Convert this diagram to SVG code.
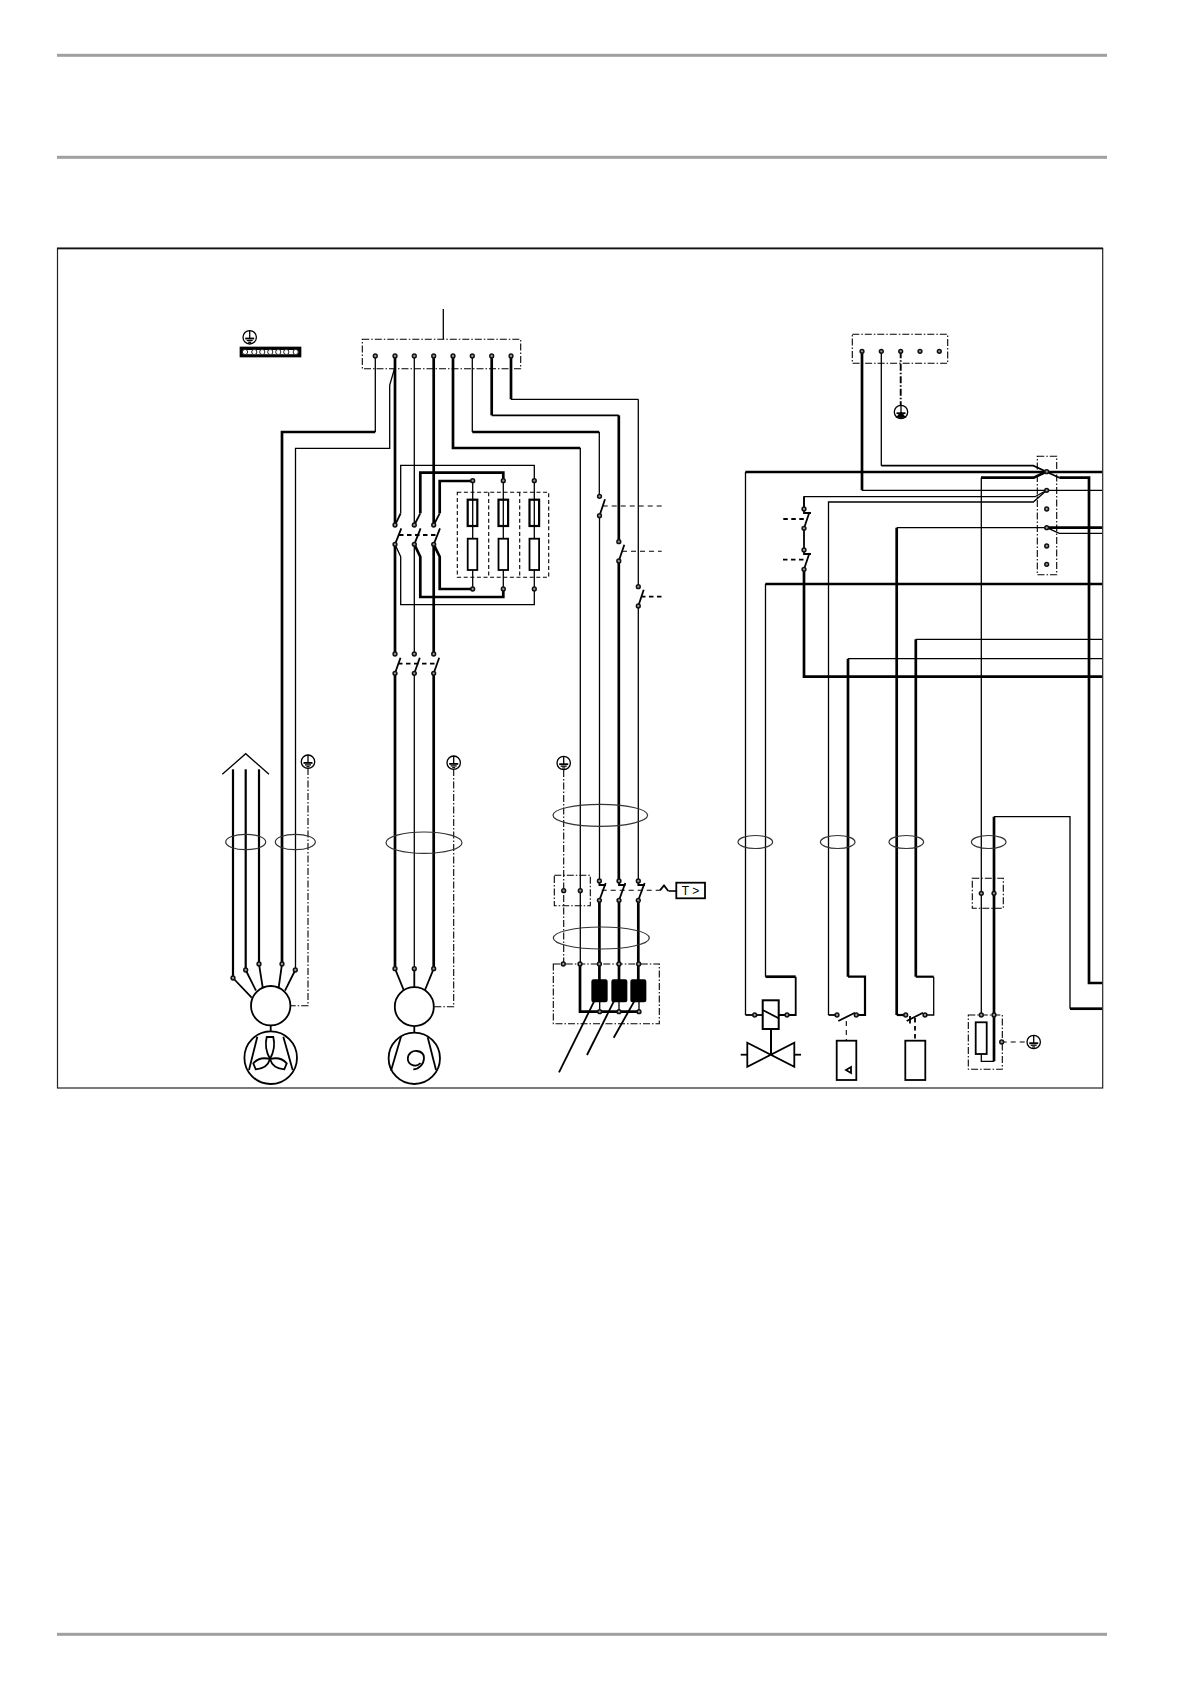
<svg xmlns="http://www.w3.org/2000/svg" width="1191" height="1684" viewBox="0 0 1191 1684">
<style>
line,path,polyline,rect,circle,ellipse,polygon{fill:none;stroke:#000;stroke-width:1.3}
.k{stroke-width:2.7}
.th{stroke-width:1.3}
.m{stroke-width:1.8}
.f{stroke-width:2.2}
.dd{stroke-width:1.1;stroke-dasharray:7 2 1.5 2}
.dk{stroke-width:1.9;stroke-dasharray:7 2 1.5 2}
.d{stroke-width:1.1;stroke-dasharray:4 2.6}
.dh{stroke-width:1.8;stroke-dasharray:4.5 3.5}
.dl{stroke-width:1.1;stroke-dasharray:5 4}
.e{stroke:#333;stroke-width:1.2}
.t{fill:#999;stroke:#111;stroke-width:1.5}
.b{fill:#000;stroke:#000}
.g{fill:#a0a0a0;stroke:none}
.txt{font-family:"Liberation Sans",Arial,sans-serif;font-size:12px;fill:#000}
</style>
<defs>
<g id="pe"><circle r="6.7" style="fill:#fff"/><line x1="0" y1="-7" x2="0" y2="1"/><line x1="-4.5" y1="1.2" x2="4.5" y2="1.2" class="m"/><line x1="-3" y1="3.2" x2="3" y2="3.2"/><line x1="-1.5" y1="5" x2="1.5" y2="5"/></g>
<circle id="tm" r="1.9" class="t"/>
<circle id="tb" r="2.6" style="fill:#fff;stroke:#222;stroke-width:1"/>
</defs>
<g id="page-rules">
<rect class="g" x="57" y="53.8" width="1050" height="3"/>
<rect class="g" x="57" y="155.8" width="1050" height="3"/>
<rect class="g" x="57" y="1632.8" width="1050" height="3"/>
</g>
<g id="frame">
<rect x="57.5" y="248.5" width="1045.2" height="839.5" style="stroke:#222;stroke-width:1.2"/>
<line x1="57" y1="248.3" x2="1103" y2="248.3" style="stroke:#111;stroke-width:1.7"/>
</g>
<g id="connectors">
<line x1="443.3" y1="309" x2="443.3" y2="339.3"/>
<polyline points="375.3,356 375.3,432"/><polyline class="k" points="375.3,432 282,432 282,964"/>
<polyline points="395,367 389.7,385 389.7,448.3 295.5,448.3 295.5,970"/>
<line class="k" x1="395" y1="356" x2="395" y2="525"/><line class="k" x1="395" y1="544.3" x2="395" y2="654"/><line class="k" x1="395" y1="673.3" x2="395" y2="968.7"/>
<line x1="414.3" y1="356" x2="414.3" y2="525"/><line x1="414.3" y1="544.3" x2="414.3" y2="654"/><line x1="414.3" y1="673.3" x2="414.3" y2="968.7"/>
<line class="k" x1="433.7" y1="356" x2="433.7" y2="525"/><line class="k" x1="433.7" y1="544.3" x2="433.7" y2="654"/><line class="k" x1="433.7" y1="673.3" x2="433.7" y2="968.7"/>
<polyline class="k" points="453,356 453,448 580.3,448"/><line x1="580.3" y1="448" x2="580.3" y2="964"/>
<line x1="472.3" y1="356" x2="472.3" y2="432"/><line class="k" x1="472.3" y1="432" x2="599.3" y2="432"/><line x1="599.3" y1="432" x2="599.3" y2="496.3"/>
<line x1="599.5" y1="515.7" x2="599.5" y2="881"/>
<line class="k" x1="491.7" y1="356" x2="491.7" y2="415.3"/><line class="m" x1="491.7" y1="415.3" x2="618.8" y2="415.3"/><line class="k" x1="618.8" y1="415.3" x2="618.8" y2="541.7"/><line class="k" x1="618.8" y1="561" x2="618.8" y2="881"/>
<line class="k" x1="511" y1="356" x2="511" y2="399.3"/><line class="th" x1="511" y1="399.3" x2="638.3" y2="399.3"/><line x1="638.3" y1="399.3" x2="638.3" y2="586.7"/><line x1="638.3" y1="606" x2="638.3" y2="881"/>
<line class="dl" x1="602.7" y1="506" x2="661.7" y2="506"/><line class="dl" x1="622" y1="551.3" x2="661.7" y2="551.3"/><line class="dh" x1="641" y1="596.7" x2="661.7" y2="596.7"/>
<polyline points="400.7,513.3 400.7,465.3 534.3,465.3 534.3,480.7"/>
<polyline class="k" points="420.3,513.3 420.3,472.7 503.3,472.7 503.3,480.7"/>
<polyline class="k" points="439.7,513.3 439.7,481 472.7,481"/>
<polyline points="395,544.3 400.7,556.7 400.7,604.7 534.3,604.7 534.3,589"/>
<polyline class="k" points="414.3,544.3 420.3,556.7 420.3,597 503.3,597 503.3,589"/>
<polyline class="k" points="433.7,544.3 439.7,556.7 439.7,589 472.7,589"/>
<polyline class="k" points="862,351.3 862,490.3"/><line x1="862" y1="490.3" x2="1102" y2="490.3"/>
<polyline points="881.3,351.3 881.3,465.7"/><polyline class="m" points="881.3,465.7 1033.3,465.7 1059.3,477.7"/><polyline class="k" points="1059.3,477.7 1089,477.7 1089,983 1102,983"/>
<line class="dk" x1="900.7" y1="351.3" x2="900.7" y2="405"/>
<polyline class="k" points="745.3,472 1102,472"/><line x1="745.5" y1="472" x2="745.5" y2="1015"/>
<polyline class="k" points="1046.7,471.5 1033.7,477.7 981,477.7"/><line x1="981.3" y1="477.7" x2="981.3" y2="1015"/>
<polyline points="804,509 804,496.7 1035,496.7 1046.7,490.3"/><line class="m" x1="804" y1="496.7" x2="804" y2="509"/>
<polyline points="1046.7,490.3 1033.3,502 828.5,502 828.5,1015"/>
<polyline points="1046.7,527.7 896.7,527.7"/><line class="k" x1="896.7" y1="527.7" x2="896.7" y2="1015"/>
<line class="k" x1="1046.7" y1="527.7" x2="1102" y2="527.7"/><polyline points="1046.7,527.7 1059.3,533.3 1102,533.3"/>
<line class="m" x1="804" y1="528.3" x2="804" y2="550"/>
<polyline class="k" points="804,569.3 804,676.7 1102,676.7"/>
<polyline class="k" points="1102,584 765.3,584"/><polyline points="765.5,584 765.5,976.7"/>
<polyline points="1102,639.3 915.8,639.3"/><line class="k" x1="915.8" y1="639.3" x2="915.8" y2="976.7"/>
<polyline points="1102,658.7 848,658.7"/><line class="k" x1="848" y1="658.7" x2="848" y2="976.7"/>
<line class="dh" x1="783.3" y1="519" x2="804" y2="519"/><line class="dh" x1="783" y1="559.7" x2="804" y2="559.7"/>
<polyline class="k" points="994,1015 994,816.7"/><polyline points="994,816.7 1070,816.7 1070,1008.7"/><line class="k" x1="1070" y1="1008.7" x2="1102" y2="1008.7"/>
<polyline class="dd" points="308,768 308,1005.7 290.7,1005.7"/>
<polyline class="dd" points="453.7,769 453.7,1006.7 434,1006.7"/>
<line class="dd" x1="563.7" y1="770" x2="563.7" y2="964"/>
<line class="dl" x1="1001.7" y1="1042" x2="1026.7" y2="1042"/>
<line class="k" x1="599.4" y1="900.3" x2="599.4" y2="980"/><line class="k" x1="619" y1="900.3" x2="619" y2="980"/><line class="k" x1="638.3" y1="900.3" x2="638.3" y2="980"/>
<polyline class="k" points="580,964 580,1011.7 639,1011.7"/>
<line x1="599.7" y1="1001.7" x2="599.7" y2="1011.7"/><line x1="619" y1="1001.7" x2="619" y2="1011.7"/><line x1="639" y1="1001.7" x2="639" y2="1011.7"/>
<line class="m" x1="594" y1="1001.7" x2="559" y2="1072.3"/><line class="m" x1="613.7" y1="1001.7" x2="587" y2="1055"/><line class="m" x1="634" y1="1001.7" x2="613.7" y2="1037.7"/>
<polyline class="dl" points="601.7,890.3 660,890.3"/>
<polyline class="m" points="660,890.3 664,885.5 668.3,891"/><line x1="668.5" y1="891" x2="676" y2="891" style="stroke-width:1.6"/>
<polyline class="m" points="745.5,1015 754.7,1015"/><line class="m" x1="754.7" y1="1015" x2="762.7" y2="1015"/>
<polyline class="k" points="765.5,976.7 795.7,976.7"/><polyline class="m" points="795.7,976.7 795.7,1015 778.7,1015"/>
<polyline class="m" points="828.5,1015 837,1015"/>
<polyline class="f" points="848,976.7 865,976.7 865,1015 856.3,1015"/>
<polyline class="f" points="896.7,1015 905.7,1015"/>
<polyline class="f" points="915.8,976.7 933.7,976.7"/><polyline points="933.7,976.7 933.7,1015 925,1015"/>
<line x1="846.3" y1="1021" x2="846.3" y2="1040.7" class="dl"/>
<line x1="915" y1="1018" x2="915" y2="1040.7" class="dh"/>
</g>
<g id="pe-bar">
<use href="#pe" x="249.7" y="337.3"/>
<rect x="240.3" y="347.3" width="60.4" height="9.4" class="b"/>
<rect x="244" y="350" width="53" height="4.2" style="fill:#fff;stroke:none"/>
<use href="#tb" x="245" y="352"/><use href="#tb" x="254.3" y="352"/><use href="#tb" x="262.3" y="352"/><use href="#tb" x="270.3" y="352"/><use href="#tb" x="278.3" y="352"/><use href="#tb" x="286.3" y="352"/><use href="#tb" x="295.7" y="352"/>
</g>
<g id="terminal-strip-main">
<rect class="dd" x="362.3" y="339.3" width="158.4" height="29.4"/>
<use href="#tm" x="375.3" y="356"/><use href="#tm" x="395" y="356"/><use href="#tm" x="414.3" y="356"/><use href="#tm" x="433.7" y="356"/><use href="#tm" x="453" y="356"/><use href="#tm" x="472.3" y="356"/><use href="#tm" x="491.7" y="356"/><use href="#tm" x="511" y="356"/>
</g>
<g id="terminal-strip-control">
<rect class="dd" x="852.3" y="334.3" width="95.4" height="29"/>
<use href="#tm" x="862" y="351.3"/><use href="#tm" x="881.3" y="351.3"/><use href="#tm" x="900.7" y="351.3"/><use href="#tm" x="920" y="351.3"/><use href="#tm" x="939.3" y="351.3"/>
<use href="#pe" x="901" y="412"/>
<polygon class="b" points="897,417 905,417 901,413"/>
</g>
<g id="terminal-strip-side">
<rect class="dd" x="1037.3" y="456.3" width="19.4" height="118.4"/>
<use href="#tm" x="1046.7" y="471.7"/><use href="#tm" x="1046.7" y="490.3"/><use href="#tm" x="1046.7" y="509"/><use href="#tm" x="1046.7" y="527.7"/><use href="#tm" x="1046.7" y="546"/><use href="#tm" x="1046.7" y="564.3"/>
</g>
<g id="main-contactor">
<line class="m" x1="395" y1="525" x2="400.7" y2="513.3"/><line class="m" x1="414.3" y1="525" x2="420.3" y2="513.3"/><line class="m" x1="433.7" y1="525" x2="439.7" y2="513.3"/>
<line class="m" x1="395" y1="544.3" x2="401.3" y2="528.3"/><line class="m" x1="414.3" y1="544.3" x2="420.6" y2="528.3"/><line class="m" x1="433.7" y1="544.3" x2="440" y2="528.3"/>
<line class="dh" x1="399" y1="535" x2="437" y2="535"/>
<use href="#tm" x="395" y="525"/><use href="#tm" x="414.3" y="525"/><use href="#tm" x="433.7" y="525"/>
<use href="#tm" x="395" y="544.3"/><use href="#tm" x="414.3" y="544.3"/><use href="#tm" x="433.7" y="544.3"/>
</g>
<g id="second-contactor">
<line class="m" x1="395" y1="673.3" x2="400.5" y2="657.7"/><line class="m" x1="414.3" y1="673.3" x2="419.8" y2="657.7"/><line class="m" x1="433.7" y1="673.3" x2="439.2" y2="657.7"/>
<line class="dh" x1="398" y1="663.7" x2="437" y2="663.7"/>
<use href="#tm" x="395" y="654"/><use href="#tm" x="414.3" y="654"/><use href="#tm" x="433.7" y="654"/>
<use href="#tm" x="395" y="673.3"/><use href="#tm" x="414.3" y="673.3"/><use href="#tm" x="433.7" y="673.3"/>
</g>
<g id="heater-block">
<rect class="d" x="457.3" y="492.3" width="91.4" height="85"/>
<line class="d" x1="488.7" y1="492.3" x2="488.7" y2="577.3"/><line class="d" x1="519.7" y1="492.3" x2="519.7" y2="577.3"/>
<line x1="472.7" y1="480.7" x2="472.7" y2="589"/><line x1="503.3" y1="480.7" x2="503.3" y2="589"/><line x1="534.3" y1="480.7" x2="534.3" y2="589"/>
<rect class="f" x="467.7" y="499.7" width="9.6" height="26.3"/><rect class="f" x="498.5" y="499.7" width="9.6" height="26.3"/><rect class="f" x="529.5" y="499.7" width="9.6" height="26.3"/>
<rect class="m" x="467.7" y="538.7" width="9.6" height="31.3" style="fill:#fff"/><rect class="m" x="498.5" y="538.7" width="9.6" height="31.3" style="fill:#fff"/><rect class="m" x="529.5" y="538.7" width="9.6" height="31.3" style="fill:#fff"/>
<use href="#tm" x="472.7" y="480.7"/><use href="#tm" x="503.3" y="480.7"/><use href="#tm" x="534.3" y="480.7"/>
<use href="#tm" x="472.7" y="589"/><use href="#tm" x="503.3" y="589"/><use href="#tm" x="534.3" y="589"/>
</g>
<g id="overload-contacts">
<line class="m" x1="599.5" y1="515.7" x2="605" y2="499.3"/><line class="m" x1="618.8" y1="561" x2="624.3" y2="544.7"/><line class="m" x1="638.3" y1="606" x2="643.7" y2="589.7"/>
<use href="#tm" x="599.5" y="496.3"/><use href="#tm" x="599.5" y="515.7"/><use href="#tm" x="618.8" y="541.7"/><use href="#tm" x="618.8" y="561"/><use href="#tm" x="638.3" y="586.7"/><use href="#tm" x="638.3" y="606"/>
</g>
<g id="pressure-contacts">
<line class="m" x1="804" y1="528.3" x2="809.5" y2="512"/><polyline class="m" points="804,509 804,513 811,513"/>
<line class="m" x1="804" y1="569.3" x2="809.5" y2="553"/><polyline class="m" points="804,550 804,554 811,554"/>
<use href="#tm" x="804" y="509"/><use href="#tm" x="804" y="528.3"/><use href="#tm" x="804" y="550"/><use href="#tm" x="804" y="569.3"/>
</g>
<g id="fan-motor">
<polyline points="222.3,774.3 245.7,753.7 269,774.3"/>
<line class="f" x1="233" y1="769.3" x2="233" y2="978"/><line class="f" x1="245.7" y1="769.3" x2="245.7" y2="970"/><line class="f" x1="259" y1="769.3" x2="259" y2="964"/>
<line class="m" x1="233" y1="978" x2="251.7" y2="997.7"/><line class="m" x1="245.7" y1="970" x2="256" y2="990.7"/><line class="m" x1="259" y1="964" x2="262.7" y2="987.3"/><line class="m" x1="282" y1="964" x2="278.7" y2="987.3"/><line class="m" x1="295.3" y1="970" x2="285" y2="990.7"/>
<use href="#tm" x="233" y="978"/><use href="#tm" x="245.7" y="970"/><use href="#tm" x="259" y="964"/><use href="#tm" x="282" y="964"/><use href="#tm" x="295.3" y="970"/>
<circle class="m" cx="270.7" cy="1005.7" r="19.7"/>
<line class="m" x1="270.7" y1="1025.4" x2="270.7" y2="1031.4"/>
<circle class="m" cx="270.7" cy="1057.7" r="26.3"/>
<line class="m" x1="257.3" y1="1036.7" x2="249" y2="1070"/><line class="m" x1="283.3" y1="1036.7" x2="292.7" y2="1070"/>
<path class="m" d="M270 1059C265 1050 265 1044 266.7 1037L273.3 1037C275 1044 275 1050 270 1059Z"/>
<path class="m" d="M270 1059C262 1057 257 1059 253.3 1063.3L255.7 1069.3C262 1069 268 1066 270 1059Z"/>
<path class="m" d="M270 1059C278 1057 283 1059 286.7 1063.3L284.3 1069.3C278 1069 272 1066 270 1059Z"/>
<use href="#pe" x="308" y="761.7"/>
<ellipse class="e" cx="245.7" cy="842" rx="20" ry="7.7"/>
<ellipse class="e" cx="295.3" cy="842" rx="20" ry="7.7"/>
</g>
<g id="compressor-motor">
<line class="m" x1="395" y1="968.7" x2="403.7" y2="990"/><line class="m" x1="414.3" y1="968.7" x2="414.3" y2="987"/><line class="m" x1="433.7" y1="968.7" x2="425" y2="990"/>
<use href="#tm" x="395" y="968.7"/><use href="#tm" x="414.3" y="968.7"/><use href="#tm" x="433.7" y="968.7"/>
<circle class="m" cx="414.3" cy="1006.7" r="19.5"/>
<line class="m" x1="414.3" y1="1026.2" x2="414.3" y2="1032.6"/>
<circle class="m" cx="414.3" cy="1058.3" r="25.7"/>
<line class="m" x1="401" y1="1036.7" x2="391" y2="1070.7"/><line class="m" x1="427.7" y1="1037.3" x2="436" y2="1070"/>
<path class="m" d="M420.5 1063C416 1068 408 1065 407.8 1059C407.8 1053 413 1050.5 417 1051C421 1051.5 424 1054 424 1058C424 1064 419 1069 413.3 1069.3"/>
<use href="#pe" x="453.7" y="762.7"/>
<ellipse class="e" cx="424" cy="842.7" rx="38" ry="10.7"/>
</g>
<g id="compressor-protection">
<use href="#pe" x="563.7" y="763"/>
<ellipse class="e" cx="600.3" cy="815.3" rx="47.3" ry="11"/>
<ellipse class="e" cx="601.3" cy="938" rx="48" ry="11"/>
<rect class="dd" x="554.3" y="875.3" width="36" height="30.4"/>
<use href="#tm" x="563.7" y="890.7"/><use href="#tm" x="580.3" y="890.7"/>
<line class="m" x1="599.4" y1="900.3" x2="605.7" y2="883"/><polyline class="m" points="599.4,881 599.4,885 606,885"/>
<line class="m" x1="619" y1="900.3" x2="625.3" y2="883"/><polyline class="m" points="619,881 619,885 625.5,885"/>
<line class="m" x1="638.3" y1="900.3" x2="644.6" y2="883"/><polyline class="m" points="638.3,881 638.3,885 645,885"/>
<use href="#tm" x="599.4" y="881"/><use href="#tm" x="619" y="881"/><use href="#tm" x="638.3" y="881"/>
<use href="#tm" x="599.4" y="900.3"/><use href="#tm" x="619" y="900.3"/><use href="#tm" x="638.3" y="900.3"/>
</g>
<g id="temperature-sensor">
<rect class="m" x="676.3" y="882.7" width="28.7" height="15.6"/>
<text class="txt" x="690.5" y="895" text-anchor="middle">T &gt;</text>
</g>
<g id="winding-box">
<rect class="dd" x="553.3" y="964" width="106" height="59.7"/>
<rect class="b" x="592" y="980" width="15" height="21.7" rx="1.5"/>
<rect class="b" x="612" y="980" width="14.7" height="21.7" rx="1.5"/>
<rect class="b" x="631" y="980" width="14.7" height="21.7" rx="1.5"/>
<use href="#tm" x="563.3" y="964"/><use href="#tm" x="580" y="964"/><use href="#tm" x="599.4" y="964"/><use href="#tm" x="619" y="964"/><use href="#tm" x="638.7" y="964"/>
<use href="#tm" x="599.7" y="1011.7"/><use href="#tm" x="619" y="1011.7"/><use href="#tm" x="639" y="1011.7"/>
</g>
<g id="solenoid-valve">
<ellipse class="e" cx="755.3" cy="842" rx="17.3" ry="6.5"/>
<rect x="762.7" y="1000.3" width="16" height="28.7" style="stroke-width:2"/>
<line class="m" x1="762.7" y1="1010" x2="778.7" y2="1018.3"/>
<use href="#tm" x="754.7" y="1015"/><use href="#tm" x="787" y="1015"/>
<line x1="771" y1="1029" x2="771" y2="1054.7" style="stroke-width:2"/>
<polygon class="m" points="747.3,1042.7 794.3,1066.7 794.3,1042.7 747.3,1066.7"/>
<line class="m" x1="740.7" y1="1054.7" x2="747.3" y2="1054.7"/><line class="m" x1="794.3" y1="1054.7" x2="801" y2="1054.7"/>
</g>
<g id="low-pressure-switch">
<ellipse class="e" cx="837.7" cy="842" rx="17.3" ry="6.5"/>
<line class="m" x1="838.3" y1="1021" x2="855" y2="1012.7"/>
<use href="#tm" x="837" y="1015"/><use href="#tm" x="856.3" y="1015"/>
<rect class="m" x="836.7" y="1040.7" width="19.6" height="39.3"/>
<polygon class="m" points="846,1070 851,1067 851,1073"/>
</g>
<g id="high-pressure-switch">
<ellipse class="e" cx="906.3" cy="842" rx="17.3" ry="6.5"/>
<line class="m" x1="906.7" y1="1021" x2="923" y2="1012.7"/>
<line class="m" x1="910" y1="1016" x2="910" y2="1023.5"/>
<use href="#tm" x="905.7" y="1015"/><use href="#tm" x="925" y="1015"/>
<rect class="m" x="905.3" y="1040.7" width="20" height="39.3"/>
</g>
<g id="crankcase-heater">
<ellipse class="e" cx="988.7" cy="842" rx="17.3" ry="6.5"/>
<rect class="dd" x="972.3" y="878.3" width="31" height="30"/>
<use href="#tm" x="981.3" y="893.3"/><use href="#tm" x="994" y="893.3"/>
<rect class="dd" x="968.3" y="1015" width="34" height="54.3"/>
<polyline points="981.3,1054 981.3,1061.3 994,1061.3"/><line class="k" x1="994" y1="1015" x2="994" y2="1061.3"/>
<rect class="m" x="975.7" y="1022.3" width="11" height="31.7" style="fill:#fff"/>
<use href="#tm" x="981.3" y="1015"/><use href="#tm" x="994" y="1015"/><use href="#tm" x="1001.7" y="1042"/>
<use href="#pe" x="1033.7" y="1042"/>
</g>
</svg>
